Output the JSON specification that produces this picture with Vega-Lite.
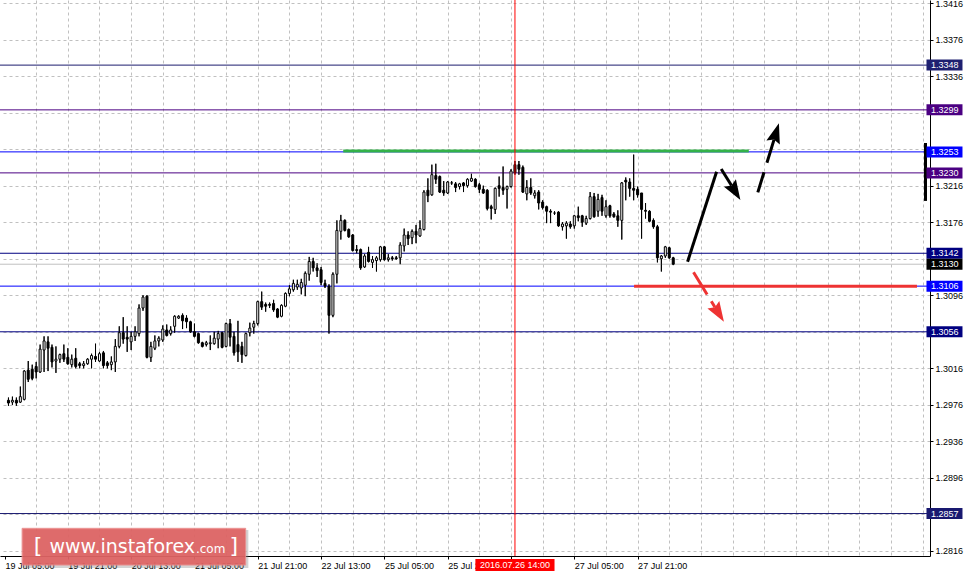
{
"$schema": "https://vega.github.io/schema/vega-lite/v6.json",
"width": 930, "height": 556,
"autosize": {"type": "none"},
"padding": {"left": 0, "top": 0, "right": 42, "bottom": 23},
"background": "#ffffff",
"config": {"view": {"stroke": null}, "axis": {"labelOverlap": false, "labelBound": false, "labelFlush": false}},
"resolve": {"axis": {"x": "independent", "y": "independent"}},
"datasets": {
"levels": [{"name":"1.3348","price":1.3348},{"name":"1.3299","price":1.3299},{"name":"1.3253","price":1.3253},{"name":"1.3230","price":1.323},{"name":"1.3142","price":1.3142},{"name":"1.3130","price":1.313},{"name":"1.3106","price":1.3106},{"name":"1.3056","price":1.3056},{"name":"1.2857","price":1.2857}],
"candles": [
{"k":0,"o":1.2981,"h":1.2984,"l":1.2975,"c":1.2978},
{"k":1,"o":1.2979,"h":1.2985,"l":1.2976,"c":1.2981},
{"k":2,"o":1.2981,"h":1.2984,"l":1.2975,"c":1.2978},
{"k":3,"o":1.2979,"h":1.2996,"l":1.2978,"c":1.2985},
{"k":4,"o":1.2982,"h":1.3014,"l":1.2981,"c":1.3013},
{"k":5,"o":1.3014,"h":1.3024,"l":1.3001,"c":1.3004},
{"k":6,"o":1.3015,"h":1.302,"l":1.3003,"c":1.3005},
{"k":7,"o":1.3018,"h":1.3023,"l":1.3005,"c":1.3012},
{"k":8,"o":1.3012,"h":1.3042,"l":1.3011,"c":1.3037},
{"k":9,"o":1.3036,"h":1.3051,"l":1.3012,"c":1.3046},
{"k":10,"o":1.3045,"h":1.3051,"l":1.3013,"c":1.3038},
{"k":11,"o":1.3039,"h":1.3042,"l":1.3017,"c":1.3023},
{"k":12,"o":1.3024,"h":1.304,"l":1.3011,"c":1.3026},
{"k":13,"o":1.3026,"h":1.3032,"l":1.3022,"c":1.3031},
{"k":14,"o":1.3032,"h":1.3042,"l":1.3023,"c":1.3026},
{"k":15,"o":1.3028,"h":1.3038,"l":1.302,"c":1.3021},
{"k":16,"o":1.302,"h":1.3031,"l":1.3017,"c":1.3026},
{"k":17,"o":1.3027,"h":1.3038,"l":1.3016,"c":1.3018},
{"k":18,"o":1.3021,"h":1.3023,"l":1.3016,"c":1.3019},
{"k":19,"o":1.3019,"h":1.3024,"l":1.3016,"c":1.3021},
{"k":20,"o":1.3021,"h":1.3027,"l":1.302,"c":1.3026},
{"k":21,"o":1.3026,"h":1.3032,"l":1.3016,"c":1.303},
{"k":22,"o":1.3029,"h":1.3043,"l":1.3023,"c":1.3026},
{"k":23,"o":1.3024,"h":1.3034,"l":1.3023,"c":1.3032},
{"k":24,"o":1.3033,"h":1.3035,"l":1.3016,"c":1.3019},
{"k":25,"o":1.3022,"h":1.3024,"l":1.3016,"c":1.3019},
{"k":26,"o":1.302,"h":1.3029,"l":1.3014,"c":1.3023},
{"k":27,"o":1.3023,"h":1.3048,"l":1.3012,"c":1.304},
{"k":28,"o":1.304,"h":1.3062,"l":1.3038,"c":1.3055},
{"k":29,"o":1.3055,"h":1.3072,"l":1.3043,"c":1.3048},
{"k":30,"o":1.305,"h":1.3062,"l":1.3034,"c":1.3048},
{"k":31,"o":1.3045,"h":1.3056,"l":1.3036,"c":1.3051},
{"k":32,"o":1.3051,"h":1.3062,"l":1.3046,"c":1.3056},
{"k":33,"o":1.3054,"h":1.3086,"l":1.3051,"c":1.3082},
{"k":34,"o":1.3082,"h":1.3096,"l":1.3079,"c":1.3094},
{"k":35,"o":1.3095,"h":1.3096,"l":1.3027,"c":1.3028},
{"k":36,"o":1.3028,"h":1.3045,"l":1.3023,"c":1.304},
{"k":37,"o":1.3038,"h":1.3052,"l":1.3036,"c":1.3046},
{"k":38,"o":1.3046,"h":1.3051,"l":1.304,"c":1.3049},
{"k":39,"o":1.3047,"h":1.3063,"l":1.3045,"c":1.3059},
{"k":40,"o":1.3058,"h":1.3064,"l":1.3051,"c":1.3052},
{"k":41,"o":1.3054,"h":1.3062,"l":1.3052,"c":1.3058},
{"k":42,"o":1.3062,"h":1.3074,"l":1.3055,"c":1.3073},
{"k":43,"o":1.3071,"h":1.3074,"l":1.307,"c":1.3073},
{"k":44,"o":1.3074,"h":1.3076,"l":1.3059,"c":1.3068},
{"k":45,"o":1.3071,"h":1.3074,"l":1.306,"c":1.3067},
{"k":46,"o":1.3067,"h":1.3068,"l":1.3055,"c":1.3056},
{"k":47,"o":1.3056,"h":1.3065,"l":1.305,"c":1.3051},
{"k":48,"o":1.3054,"h":1.3055,"l":1.3043,"c":1.3044},
{"k":49,"o":1.3044,"h":1.3045,"l":1.3039,"c":1.304},
{"k":50,"o":1.3042,"h":1.3046,"l":1.304,"c":1.3044},
{"k":51,"o":1.3043,"h":1.3052,"l":1.3036,"c":1.3044},
{"k":52,"o":1.3043,"h":1.3056,"l":1.3042,"c":1.3049},
{"k":53,"o":1.3048,"h":1.3057,"l":1.3038,"c":1.3054},
{"k":54,"o":1.3055,"h":1.3056,"l":1.3038,"c":1.3039},
{"k":55,"o":1.304,"h":1.3066,"l":1.3039,"c":1.3065},
{"k":56,"o":1.3065,"h":1.307,"l":1.304,"c":1.305},
{"k":57,"o":1.3051,"h":1.3056,"l":1.303,"c":1.3033},
{"k":58,"o":1.3042,"h":1.3068,"l":1.3023,"c":1.3034},
{"k":59,"o":1.304,"h":1.3045,"l":1.3022,"c":1.3031},
{"k":60,"o":1.303,"h":1.3055,"l":1.3029,"c":1.3054},
{"k":61,"o":1.3055,"h":1.3066,"l":1.3051,"c":1.306},
{"k":62,"o":1.3061,"h":1.3068,"l":1.3054,"c":1.3065},
{"k":63,"o":1.3065,"h":1.309,"l":1.3063,"c":1.3089},
{"k":64,"o":1.3089,"h":1.31,"l":1.308,"c":1.3083},
{"k":65,"o":1.3086,"h":1.3088,"l":1.3078,"c":1.3084},
{"k":66,"o":1.3086,"h":1.3088,"l":1.3082,"c":1.3085},
{"k":67,"o":1.3087,"h":1.3091,"l":1.3078,"c":1.308},
{"k":68,"o":1.3081,"h":1.3082,"l":1.3071,"c":1.3072},
{"k":69,"o":1.3073,"h":1.3086,"l":1.3072,"c":1.3085},
{"k":70,"o":1.3084,"h":1.3099,"l":1.3083,"c":1.3098},
{"k":71,"o":1.3098,"h":1.3107,"l":1.3095,"c":1.3103},
{"k":72,"o":1.3102,"h":1.3113,"l":1.31,"c":1.3109},
{"k":73,"o":1.3105,"h":1.3113,"l":1.3102,"c":1.3108},
{"k":74,"o":1.3104,"h":1.3114,"l":1.3097,"c":1.311},
{"k":75,"o":1.3107,"h":1.3122,"l":1.3095,"c":1.312},
{"k":76,"o":1.3119,"h":1.3138,"l":1.3112,"c":1.3133},
{"k":77,"o":1.3133,"h":1.3137,"l":1.3122,"c":1.3126},
{"k":78,"o":1.3126,"h":1.3131,"l":1.3116,"c":1.3123},
{"k":79,"o":1.3124,"h":1.3127,"l":1.3107,"c":1.311},
{"k":80,"o":1.3109,"h":1.3113,"l":1.3104,"c":1.3106},
{"k":81,"o":1.3106,"h":1.3108,"l":1.3054,"c":1.3074},
{"k":82,"o":1.3074,"h":1.3121,"l":1.3072,"c":1.3119},
{"k":83,"o":1.3119,"h":1.3178,"l":1.3109,"c":1.3167},
{"k":84,"o":1.3166,"h":1.3184,"l":1.3157,"c":1.3178},
{"k":85,"o":1.3178,"h":1.3179,"l":1.3166,"c":1.3167},
{"k":86,"o":1.3168,"h":1.3169,"l":1.3159,"c":1.316},
{"k":87,"o":1.3162,"h":1.3163,"l":1.3144,"c":1.3145},
{"k":88,"o":1.3146,"h":1.3151,"l":1.3142,"c":1.3145},
{"k":89,"o":1.3146,"h":1.3147,"l":1.3124,"c":1.3126},
{"k":90,"o":1.3127,"h":1.3141,"l":1.3126,"c":1.3139},
{"k":91,"o":1.3143,"h":1.3149,"l":1.3132,"c":1.3133},
{"k":92,"o":1.3132,"h":1.3139,"l":1.3126,"c":1.3135},
{"k":93,"o":1.3134,"h":1.3139,"l":1.3122,"c":1.3137},
{"k":94,"o":1.3135,"h":1.315,"l":1.3133,"c":1.3149},
{"k":95,"o":1.3149,"h":1.315,"l":1.3134,"c":1.3135},
{"k":96,"o":1.3135,"h":1.3141,"l":1.3133,"c":1.3137},
{"k":97,"o":1.3137,"h":1.3139,"l":1.3134,"c":1.3136},
{"k":98,"o":1.3137,"h":1.3139,"l":1.3135,"c":1.3136},
{"k":99,"o":1.3137,"h":1.3154,"l":1.313,"c":1.3151},
{"k":100,"o":1.315,"h":1.3169,"l":1.3144,"c":1.3162},
{"k":101,"o":1.3162,"h":1.3166,"l":1.3151,"c":1.3158},
{"k":102,"o":1.3159,"h":1.3168,"l":1.3152,"c":1.3166},
{"k":103,"o":1.3166,"h":1.3173,"l":1.3153,"c":1.3162},
{"k":104,"o":1.3161,"h":1.3178,"l":1.316,"c":1.3169},
{"k":105,"o":1.3168,"h":1.3211,"l":1.3167,"c":1.3209},
{"k":106,"o":1.3211,"h":1.3224,"l":1.3198,"c":1.3205},
{"k":107,"o":1.3206,"h":1.3239,"l":1.3205,"c":1.3228},
{"k":108,"o":1.3227,"h":1.324,"l":1.3218,"c":1.3223},
{"k":109,"o":1.3226,"h":1.3227,"l":1.3208,"c":1.3209},
{"k":110,"o":1.3211,"h":1.3221,"l":1.3205,"c":1.3208},
{"k":111,"o":1.3208,"h":1.3221,"l":1.3207,"c":1.322},
{"k":112,"o":1.3219,"h":1.3221,"l":1.3217,"c":1.3219},
{"k":113,"o":1.3218,"h":1.322,"l":1.3209,"c":1.3214},
{"k":114,"o":1.3215,"h":1.3219,"l":1.3212,"c":1.3218},
{"k":115,"o":1.3219,"h":1.322,"l":1.3209,"c":1.3216},
{"k":116,"o":1.3216,"h":1.3224,"l":1.3214,"c":1.3223},
{"k":117,"o":1.3221,"h":1.3229,"l":1.322,"c":1.3224},
{"k":118,"o":1.3223,"h":1.3224,"l":1.3214,"c":1.3215},
{"k":119,"o":1.3217,"h":1.3219,"l":1.3208,"c":1.3212},
{"k":120,"o":1.3212,"h":1.3216,"l":1.3207,"c":1.3208},
{"k":121,"o":1.3211,"h":1.3212,"l":1.3189,"c":1.3191},
{"k":122,"o":1.3193,"h":1.3195,"l":1.3179,"c":1.3191},
{"k":123,"o":1.319,"h":1.3214,"l":1.3185,"c":1.3213},
{"k":124,"o":1.3216,"h":1.3226,"l":1.3204,"c":1.3213},
{"k":125,"o":1.3214,"h":1.3237,"l":1.3206,"c":1.3211},
{"k":126,"o":1.3212,"h":1.3216,"l":1.3191,"c":1.3215},
{"k":127,"o":1.3215,"h":1.3234,"l":1.3214,"c":1.3232},
{"k":128,"o":1.3239,"h":1.3243,"l":1.3228,"c":1.323},
{"k":129,"o":1.3239,"h":1.3243,"l":1.3228,"c":1.3234},
{"k":130,"o":1.3236,"h":1.3238,"l":1.3208,"c":1.3209},
{"k":131,"o":1.3207,"h":1.3222,"l":1.32,"c":1.3214},
{"k":132,"o":1.3214,"h":1.3224,"l":1.3206,"c":1.3208},
{"k":133,"o":1.3205,"h":1.3211,"l":1.3202,"c":1.3208},
{"k":134,"o":1.3209,"h":1.3211,"l":1.319,"c":1.3197},
{"k":135,"o":1.3198,"h":1.32,"l":1.319,"c":1.3192},
{"k":136,"o":1.3193,"h":1.3194,"l":1.3175,"c":1.3188},
{"k":137,"o":1.3188,"h":1.319,"l":1.3175,"c":1.3187},
{"k":138,"o":1.3186,"h":1.3188,"l":1.3184,"c":1.3186},
{"k":139,"o":1.3187,"h":1.3188,"l":1.3171,"c":1.3172},
{"k":140,"o":1.3171,"h":1.3176,"l":1.3167,"c":1.3174},
{"k":141,"o":1.3172,"h":1.3177,"l":1.3158,"c":1.3175},
{"k":142,"o":1.3174,"h":1.3177,"l":1.3169,"c":1.3171},
{"k":143,"o":1.3172,"h":1.3184,"l":1.3169,"c":1.3183},
{"k":144,"o":1.3183,"h":1.3193,"l":1.3177,"c":1.3181},
{"k":145,"o":1.3183,"h":1.3184,"l":1.3171,"c":1.3176},
{"k":146,"o":1.3175,"h":1.3183,"l":1.3173,"c":1.318},
{"k":147,"o":1.318,"h":1.3209,"l":1.3179,"c":1.3204},
{"k":148,"o":1.3204,"h":1.3208,"l":1.3181,"c":1.3182},
{"k":149,"o":1.3188,"h":1.3207,"l":1.3182,"c":1.3201},
{"k":150,"o":1.3203,"h":1.3206,"l":1.3183,"c":1.3188},
{"k":151,"o":1.3183,"h":1.32,"l":1.3181,"c":1.3193},
{"k":152,"o":1.3194,"h":1.3195,"l":1.3181,"c":1.3183},
{"k":153,"o":1.3185,"h":1.3187,"l":1.3181,"c":1.3182},
{"k":154,"o":1.3183,"h":1.3189,"l":1.3171,"c":1.3178},
{"k":155,"o":1.3178,"h":1.322,"l":1.3157,"c":1.3219},
{"k":156,"o":1.3222,"h":1.3225,"l":1.32,"c":1.322},
{"k":157,"o":1.322,"h":1.3224,"l":1.3204,"c":1.3213},
{"k":158,"o":1.3213,"h":1.325,"l":1.32,"c":1.3211},
{"k":159,"o":1.3212,"h":1.3215,"l":1.3203,"c":1.3206},
{"k":160,"o":1.3208,"h":1.3208,"l":1.3158,"c":1.319},
{"k":161,"o":1.3189,"h":1.3197,"l":1.318,"c":1.3188},
{"k":162,"o":1.3188,"h":1.3189,"l":1.3176,"c":1.3177},
{"k":163,"o":1.3178,"h":1.318,"l":1.3169,"c":1.3171},
{"k":164,"o":1.3171,"h":1.3173,"l":1.3132,"c":1.3137},
{"k":165,"o":1.3136,"h":1.314,"l":1.3122,"c":1.3139},
{"k":166,"o":1.3139,"h":1.315,"l":1.3137,"c":1.3149},
{"k":167,"o":1.3148,"h":1.3149,"l":1.3136,"c":1.3137},
{"k":168,"o":1.3137,"h":1.3138,"l":1.3129,"c":1.313}
]
},
"layer": [
{
"data": {"name": "candles"},
"mark": {"type": "rule", "color": "#000000", "strokeWidth": 1},
"encoding": {
"x": {"field": "k", "type": "quantitative",
 "scale": {"domain": [-0.875, 231.625], "nice": false, "zero": false},
 "axis": {"title": null, "orient": "bottom",
  "values": [-0.875,7,15,23,31,39,47,55,63,71,79,87,95,103,111,119,127,135,143,151,159,167,175,183,191,199,207,215,223,231],
  "labelExpr": "datum.value < 0 ? '19 Jul 05:00' : (((datum.value + 1) % 16 == 0) && datum.value <= 159 && datum.value != 127) ? ['19 Jul 05:00','19 Jul 21:00','20 Jul 13:00','21 Jul 05:00','21 Jul 21:00','22 Jul 13:00','25 Jul 05:00','25 Jul 21:00','26 Jul 13:00','27 Jul 05:00','27 Jul 21:00'][(datum.value + 1) / 16] : ''",
  "labelAlign": "left", "labelBaseline": "top", "labelPadding": 2,
  "labelFont": "Liberation Sans", "labelFontSize": 9, "labelColor": "#000000",
  "labelFlush": false, "labelOverlap": false, "labelBound": false,
  "tickSize": 3, "tickColor": "#000000",
  "tickOpacity": {"condition": {"test": "datum.value < 0 || (((datum.value + 1) % 16 == 0) && datum.value <= 159)", "value": 1}, "value": 0},
  "domainColor": "#000000", "domainWidth": 1,
  "grid": true, "gridColor": "#c0c0c0", "gridDash": [3, 3], "gridWidth": 1,
  "gridOpacity": {"condition": {"test": "datum.value < 0", "value": 0}, "value": 1}
 }},
"y": {"field": "l", "type": "quantitative",
 "scale": {"domain": [1.28105, 1.34193], "nice": false, "zero": false},
 "axis": {"title": null, "orient": "right",
  "values": [1.3416,1.3376,1.3336,1.3296,1.3256,1.3216,1.3176,1.3136,1.3096,1.3056,1.3016,1.2976,1.2936,1.2896,1.2856,1.2816],
  "labelExpr": "indexof([1.3296,1.3256,1.3136,1.3056,1.2856], datum.value) >= 0 ? '' : format(datum.value, '.4f')",
  "labelAlign": "left", "labelBaseline": "middle", "labelPadding": 2,
  "labelFont": "Liberation Sans", "labelFontSize": 9, "labelColor": "#000000",
  "labelFlush": false, "labelOverlap": false, "labelBound": false,
  "tickSize": 3, "tickColor": "#000000",
  "domainColor": "#000000", "domainWidth": 1,
  "grid": true, "gridColor": "#c0c0c0", "gridDash": [3, 3], "gridWidth": 1
 }},
"y2": {"field": "h"}
}
},
{
"data": {"name": "levels"},
"mark": {"type": "rule", "strokeWidth": 1},
"encoding": {
"y": {"field": "price", "type": "quantitative", "axis": null},
"stroke": {"field": "name", "type": "nominal", "legend": null,
 "scale": {"domain": ["1.3348","1.3299","1.3253","1.3230","1.3142","1.3130","1.3106","1.3056","1.2857"],
  "range": ["#1c1c6e","#4b0082","#0000ff","#4b0082","#000080","#c0c0c0","#0000ff","#000080","#191970"]}}
}
},
{
"data": {"name": "candles"},
"mark": {"type": "rule", "color": "#000000", "strokeWidth": 1},
"encoding": {
"x": {"field": "k", "type": "quantitative", "axis": null},
"y": {"field": "l", "type": "quantitative", "axis": null},
"y2": {"field": "h"}
}
},
{
"data": {"name": "candles"},
"mark": {"type": "bar", "width": 2, "stroke": "#000000", "strokeWidth": 1},
"encoding": {
"x": {"field": "k", "type": "quantitative", "axis": null},
"y": {"field": "o", "type": "quantitative", "axis": null},
"y2": {"field": "c"},
"fill": {"condition": {"test": "datum.c < datum.o", "value": "#000000"}, "value": "#ffffff"}
}
},
{
"data": {"values": [{}]},
"mark": {"type": "rule", "color": "#33b249", "strokeWidth": 3},
"encoding": {"x": {"datum": 84.6, "axis": null}, "x2": {"datum": 187.1}, "y": {"datum": 1.3254, "axis": null}}
},
{
"data": {"values": [{}]},
"mark": {"type": "rule", "color": "#ee3333", "strokeWidth": 3},
"encoding": {"x": {"datum": 158.1, "axis": null}, "x2": {"datum": 229.6}, "y": {"datum": 1.3106, "axis": null}}
},
{
"data": {"values": [{}]},
"mark": {"type": "rule", "color": "#ff0000", "strokeWidth": 1},
"encoding": {"x": {"datum": 128, "axis": null}}
},
{
"data": {"values": [{}]},
"mark": {"type": "rule", "color": "#000000", "strokeWidth": 3},
"encoding": {"x": {"datum": 231.75, "axis": null}, "y": {"datum": 1.32627, "axis": null}, "y2": {"datum": 1.31993}}
},
{
"data": {"values": [{}]},
"mark": {"type": "rule", "color": "#000000", "strokeWidth": 3},
"encoding": {"x": {"datum": 171.625, "axis": null}, "y": {"datum": 1.31327, "axis": null}, "x2": {"datum": 178.95}, "y2": {"datum": 1.32313}}
},
{
"data": {"values": [{}]},
"mark": {"type": "rule", "color": "#000000", "strokeWidth": 3},
"encoding": {"x": {"datum": 180.125, "axis": null}, "y": {"datum": 1.32342, "axis": null}, "x2": {"datum": 182.725}, "y2": {"datum": 1.32162}}
},
{
"data": {"values": [{}]},
"mark": {"type": "rule", "color": "#000000", "strokeWidth": 3, "strokeDash": [21, 10, 30, 10]},
"encoding": {"x": {"datum": 189.375, "axis": null}, "y": {"datum": 1.32087, "axis": null}, "x2": {"datum": 193.475}, "y2": {"datum": 1.32664}}
},
{
"data": {"values": [{}]},
"mark": {"type": "rule", "color": "#ee3333", "strokeWidth": 3, "strokeDash": [26, 8, 30, 8]},
"encoding": {"x": {"datum": 173.125, "axis": null}, "y": {"datum": 1.31211, "axis": null}, "x2": {"datum": 178.55}, "y2": {"datum": 1.30828}}
},
{
"data": {"values": [{}]},
"mark": {"type": "point", "shape": "M0,-1L0.7,1L0,0.7L-0.7,1Z", "size": 400, "angle": 148.5, "filled": true, "opacity": 1, "color": "#000000"},
"encoding": {"x": {"datum": 183.65, "axis": null}, "y": {"datum": 1.32096, "axis": null}}
},
{
"data": {"values": [{}]},
"mark": {"type": "point", "shape": "M0,-1L0.7,1L0,0.7L-0.7,1Z", "size": 400, "angle": 16.9, "filled": true, "opacity": 1, "color": "#000000"},
"encoding": {"x": {"datum": 193.975, "axis": null}, "y": {"datum": 1.32738, "axis": null}}
},
{
"data": {"values": [{}]},
"mark": {"type": "point", "shape": "M0,-1L0.7,1L0,0.7L-0.7,1Z", "size": 400, "angle": 148.1, "filled": true, "opacity": 1, "color": "#ee3333"},
"encoding": {"x": {"datum": 179.475, "axis": null}, "y": {"datum": 1.30763, "axis": null}}
},
{
"data": {"name": "levels"},
"mark": {"type": "tick", "orient": "horizontal", "size": 36, "thickness": 11, "opacity": 1},
"encoding": {
"x": {"datum": 236.55, "axis": null},
"y": {"field": "price", "type": "quantitative", "axis": null},
"fill": {"field": "name", "type": "nominal", "legend": null,
 "scale": {"domain": ["1.3348","1.3299","1.3253","1.3230","1.3142","1.3130","1.3106","1.3056","1.2857"],
  "range": ["#1e2070","#4b0082","#0000ff","#4b0082","#000080","#000000","#0000ff","#000080","#191970"]}}
}
},
{
"data": {"name": "levels"},
"mark": {"type": "text", "align": "left", "baseline": "middle", "font": "Liberation Sans", "fontSize": 9, "color": "#ffffff"},
"encoding": {
"x": {"datum": 233.125, "axis": null},
"y": {"field": "price", "type": "quantitative", "axis": null},
"text": {"field": "name"}
}
},
{
"data": {"values": [{}]},
"mark": {"type": "rect", "color": "#ff0000"},
"encoding": {"x": {"datum": 118, "axis": null}, "x2": {"datum": 138}, "y": {"datum": 1.28072, "axis": null}, "y2": {"datum": 1.27941}}
},
{
"data": {"values": [{}]},
"mark": {"type": "text", "align": "center", "baseline": "middle", "font": "Liberation Sans", "fontSize": 9, "color": "#ffffff"},
"encoding": {"x": {"datum": 128, "axis": null}, "y": {"datum": 1.28006, "axis": null}, "text": {"value": "2016.07.26 14:00"}}
},
{
"data": {"values": [{}]},
"mark": {"type": "rect", "color": "#808080", "opacity": 0.35},
"encoding": {"x": {"datum": 3.875, "axis": null}, "x2": {"datum": 60.625}, "y": {"datum": 1.28389, "axis": null}, "y2": {"datum": 1.27973}}
},
{
"data": {"values": [{}]},
"mark": {"type": "rect", "color": "#e06363", "opacity": 0.92, "stroke": "#ea8c8c", "strokeWidth": 1},
"encoding": {"x": {"datum": 3.45, "axis": null}, "x2": {"datum": 59.95}, "y": {"datum": 1.28408, "axis": null}, "y2": {"datum": 1.28006}}
},
{
"data": {"values": [{}]},
"mark": {"type": "text", "align": "left", "baseline": "alphabetic", "font": "DejaVu Sans", "fontSize": 22, "color": "#ffffff"},
"encoding": {"x": {"datum": 6.375, "axis": null}, "y": {"datum": 1.28134, "axis": null}, "text": {"value": "["}}
},
{
"data": {"values": [{}]},
"mark": {"type": "text", "align": "left", "baseline": "alphabetic", "font": "DejaVu Sans", "fontSize": 19, "color": "#ffffff"},
"encoding": {"x": {"datum": 10.375, "axis": null}, "y": {"datum": 1.28134, "axis": null}, "text": {"value": "www.instaforex"}}
},
{
"data": {"values": [{}]},
"mark": {"type": "text", "align": "left", "baseline": "alphabetic", "font": "DejaVu Sans", "fontSize": 12, "color": "#ffffff"},
"encoding": {"x": {"datum": 47.375, "axis": null}, "y": {"datum": 1.28134, "axis": null}, "text": {"value": ".com"}}
},
{
"data": {"values": [{}]},
"mark": {"type": "text", "align": "left", "baseline": "alphabetic", "font": "DejaVu Sans", "fontSize": 22, "color": "#ffffff"},
"encoding": {"x": {"datum": 55.875, "axis": null}, "y": {"datum": 1.28134, "axis": null}, "text": {"value": "]"}}
}
]
}
